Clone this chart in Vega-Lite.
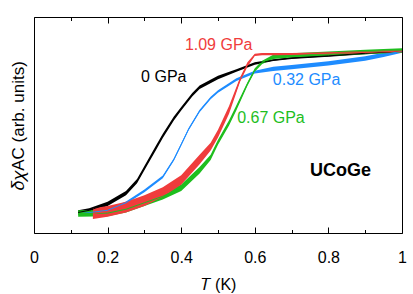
{
  "$schema": "https://vega.github.io/schema/vega-lite/v6.json",
  "width": 368,
  "height": 216,
  "autosize": "none",
  "padding": {"left": 34, "top": 17, "right": 11, "bottom": 61},
  "background": "white",
  "config": {
    "view": {"stroke": "black", "strokeWidth": 1},
    "font": "Liberation Sans",
    "axis": {"domainOpacity": 0, "gridOpacity": 0, "tickColor": "black", "labelColor": "black", "titleColor": "black", "labelFont": "Liberation Sans", "titleFont": "Liberation Sans", "labelFontSize": 16, "titleFontSize": 16, "titleFontWeight": "normal"}
  },
  "datasets": {
    "curves": [
      {"s": "0 GPa", "T": 0.12, "y": 0.095, "lo": 0.085, "hi": 0.105},
      {"s": "0 GPa", "T": 0.15, "y": 0.105, "lo": 0.095, "hi": 0.115},
      {"s": "0 GPa", "T": 0.2, "y": 0.135, "lo": 0.125, "hi": 0.145},
      {"s": "0 GPa", "T": 0.25, "y": 0.185, "lo": 0.175, "hi": 0.195},
      {"s": "0 GPa", "T": 0.28, "y": 0.24, "lo": 0.23, "hi": 0.25},
      {"s": "0 GPa", "T": 0.3, "y": 0.3, "lo": 0.29, "hi": 0.31},
      {"s": "0 GPa", "T": 0.33, "y": 0.39, "lo": 0.38, "hi": 0.4},
      {"s": "0 GPa", "T": 0.35, "y": 0.45, "lo": 0.44, "hi": 0.46},
      {"s": "0 GPa", "T": 0.38, "y": 0.53, "lo": 0.521, "hi": 0.539},
      {"s": "0 GPa", "T": 0.4, "y": 0.575, "lo": 0.567, "hi": 0.583},
      {"s": "0 GPa", "T": 0.43, "y": 0.64, "lo": 0.632, "hi": 0.648},
      {"s": "0 GPa", "T": 0.45, "y": 0.675, "lo": 0.667, "hi": 0.683},
      {"s": "0 GPa", "T": 0.5, "y": 0.72, "lo": 0.712, "hi": 0.728},
      {"s": "0 GPa", "T": 0.55, "y": 0.752, "lo": 0.746, "hi": 0.758},
      {"s": "0 GPa", "T": 0.6, "y": 0.785, "lo": 0.779, "hi": 0.791},
      {"s": "0 GPa", "T": 0.65, "y": 0.8, "lo": 0.796, "hi": 0.804},
      {"s": "0 GPa", "T": 0.7, "y": 0.81, "lo": 0.806, "hi": 0.814},
      {"s": "0 GPa", "T": 0.8, "y": 0.82, "lo": 0.816, "hi": 0.824},
      {"s": "0 GPa", "T": 0.9, "y": 0.832, "lo": 0.828, "hi": 0.836},
      {"s": "0 GPa", "T": 1.0, "y": 0.842, "lo": 0.838, "hi": 0.846},

      {"s": "0.32 GPa", "T": 0.13, "y": 0.09, "lo": 0.084, "hi": 0.096},
      {"s": "0.32 GPa", "T": 0.2, "y": 0.105, "lo": 0.099, "hi": 0.111},
      {"s": "0.32 GPa", "T": 0.25, "y": 0.14, "lo": 0.134, "hi": 0.146},
      {"s": "0.32 GPa", "T": 0.3, "y": 0.195, "lo": 0.189, "hi": 0.201},
      {"s": "0.32 GPa", "T": 0.35, "y": 0.26, "lo": 0.254, "hi": 0.266},
      {"s": "0.32 GPa", "T": 0.38, "y": 0.34, "lo": 0.334, "hi": 0.346},
      {"s": "0.32 GPa", "T": 0.4, "y": 0.41, "lo": 0.404, "hi": 0.416},
      {"s": "0.32 GPa", "T": 0.42, "y": 0.48, "lo": 0.474, "hi": 0.486},
      {"s": "0.32 GPa", "T": 0.45, "y": 0.565, "lo": 0.559, "hi": 0.571},
      {"s": "0.32 GPa", "T": 0.48, "y": 0.625, "lo": 0.619, "hi": 0.631},
      {"s": "0.32 GPa", "T": 0.5, "y": 0.655, "lo": 0.649, "hi": 0.661},
      {"s": "0.32 GPa", "T": 0.55, "y": 0.71, "lo": 0.704, "hi": 0.716},
      {"s": "0.32 GPa", "T": 0.6, "y": 0.745, "lo": 0.739, "hi": 0.751},
      {"s": "0.32 GPa", "T": 0.65, "y": 0.76, "lo": 0.75, "hi": 0.77},
      {"s": "0.32 GPa", "T": 0.7, "y": 0.768, "lo": 0.758, "hi": 0.778},
      {"s": "0.32 GPa", "T": 0.8, "y": 0.785, "lo": 0.775, "hi": 0.795},
      {"s": "0.32 GPa", "T": 0.9, "y": 0.808, "lo": 0.798, "hi": 0.818},
      {"s": "0.32 GPa", "T": 0.95, "y": 0.825, "lo": 0.815, "hi": 0.835},
      {"s": "0.32 GPa", "T": 1.0, "y": 0.842, "lo": 0.834, "hi": 0.85},

      {"s": "0.67 GPa", "T": 0.12, "y": 0.09, "lo": 0.075, "hi": 0.105},
      {"s": "0.67 GPa", "T": 0.2, "y": 0.092, "lo": 0.077, "hi": 0.107},
      {"s": "0.67 GPa", "T": 0.25, "y": 0.11, "lo": 0.095, "hi": 0.125},
      {"s": "0.67 GPa", "T": 0.3, "y": 0.14, "lo": 0.125, "hi": 0.155},
      {"s": "0.67 GPa", "T": 0.35, "y": 0.17, "lo": 0.155, "hi": 0.185},
      {"s": "0.67 GPa", "T": 0.4, "y": 0.21, "lo": 0.195, "hi": 0.225},
      {"s": "0.67 GPa", "T": 0.45, "y": 0.29, "lo": 0.275, "hi": 0.305},
      {"s": "0.67 GPa", "T": 0.48, "y": 0.35, "lo": 0.338, "hi": 0.362},
      {"s": "0.67 GPa", "T": 0.5, "y": 0.42, "lo": 0.408, "hi": 0.432},
      {"s": "0.67 GPa", "T": 0.53, "y": 0.51, "lo": 0.498, "hi": 0.522},
      {"s": "0.67 GPa", "T": 0.55, "y": 0.58, "lo": 0.568, "hi": 0.592},
      {"s": "0.67 GPa", "T": 0.58, "y": 0.69, "lo": 0.682, "hi": 0.698},
      {"s": "0.67 GPa", "T": 0.6, "y": 0.755, "lo": 0.747, "hi": 0.763},
      {"s": "0.67 GPa", "T": 0.62, "y": 0.79, "lo": 0.782, "hi": 0.798},
      {"s": "0.67 GPa", "T": 0.65, "y": 0.815, "lo": 0.805, "hi": 0.825},
      {"s": "0.67 GPa", "T": 0.7, "y": 0.822, "lo": 0.812, "hi": 0.832},
      {"s": "0.67 GPa", "T": 0.8, "y": 0.83, "lo": 0.82, "hi": 0.84},
      {"s": "0.67 GPa", "T": 0.9, "y": 0.838, "lo": 0.828, "hi": 0.848},
      {"s": "0.67 GPa", "T": 1.0, "y": 0.845, "lo": 0.835, "hi": 0.855},

      {"s": "1.09 GPa", "T": 0.16, "y": 0.09, "lo": 0.065, "hi": 0.115},
      {"s": "1.09 GPa", "T": 0.2, "y": 0.1, "lo": 0.075, "hi": 0.125},
      {"s": "1.09 GPa", "T": 0.25, "y": 0.12, "lo": 0.095, "hi": 0.145},
      {"s": "1.09 GPa", "T": 0.3, "y": 0.15, "lo": 0.125, "hi": 0.175},
      {"s": "1.09 GPa", "T": 0.35, "y": 0.19, "lo": 0.168, "hi": 0.212},
      {"s": "1.09 GPa", "T": 0.4, "y": 0.245, "lo": 0.223, "hi": 0.267},
      {"s": "1.09 GPa", "T": 0.45, "y": 0.34, "lo": 0.318, "hi": 0.362},
      {"s": "1.09 GPa", "T": 0.48, "y": 0.4, "lo": 0.382, "hi": 0.418},
      {"s": "1.09 GPa", "T": 0.5, "y": 0.46, "lo": 0.442, "hi": 0.478},
      {"s": "1.09 GPa", "T": 0.53, "y": 0.57, "lo": 0.552, "hi": 0.588},
      {"s": "1.09 GPa", "T": 0.56, "y": 0.71, "lo": 0.7, "hi": 0.72},
      {"s": "1.09 GPa", "T": 0.58, "y": 0.78, "lo": 0.77, "hi": 0.79},
      {"s": "1.09 GPa", "T": 0.6, "y": 0.825, "lo": 0.82, "hi": 0.83},
      {"s": "1.09 GPa", "T": 0.62, "y": 0.828, "lo": 0.823, "hi": 0.833},
      {"s": "1.09 GPa", "T": 0.7, "y": 0.828, "lo": 0.823, "hi": 0.833},
      {"s": "1.09 GPa", "T": 0.8, "y": 0.832, "lo": 0.827, "hi": 0.837},
      {"s": "1.09 GPa", "T": 0.9, "y": 0.836, "lo": 0.831, "hi": 0.841},
      {"s": "1.09 GPa", "T": 1.0, "y": 0.842, "lo": 0.837, "hi": 0.847}
    ],
    "labels": [
      {"s": "0 GPa", "T": 0.291, "y": 0.722, "text": "0 GPa"},
      {"s": "1.09 GPa", "T": 0.41, "y": 0.87, "text": "1.09 GPa"},
      {"s": "0.32 GPa", "T": 0.649, "y": 0.708, "text": "0.32 GPa"},
      {"s": "0.67 GPa", "T": 0.552, "y": 0.532, "text": "0.67 GPa"}
    ],
    "sample": [
      {"T": 0.75, "y": 0.287, "text": "UCoGe"}
    ]
  },
  "layer": [
    {
      "data": {"name": "curves"},
      "mark": {"type": "area", "opacity": 1},
      "encoding": {
        "x": {"field": "T", "type": "quantitative", "scale": {"domain": [0, 1], "nice": false},
              "axis": {"orient": "bottom", "offset": -6, "values": [0, 0.2, 0.4, 0.6, 0.8, 1], "format": "~g", "tickSize": 6, "tickWidth": 1, "labelPadding": 16, "labelFlush": false, "title": "𝑇 (K)", "titlePadding": 11}},
        "y": {"field": "lo", "type": "quantitative", "scale": {"domain": [0, 1], "nice": false},
              "axis": {"tickOpacity": 0, "labelOpacity": 0, "tickSize": 0, "labelFontSize": 1, "labelPadding": 0, "title": "𝛿𝜒AC (arb. units)", "titleFontSize": 17, "titlePadding": 5}},
        "y2": {"field": "hi"},
        "color": {"field": "s", "type": "nominal",
                  "scale": {"domain": ["0 GPa", "0.32 GPa", "0.67 GPa", "1.09 GPa"], "range": ["#000000", "#1e8cff", "#1ebe1e", "#f03c3c"]},
                  "legend": null}
      }
    },
    {
      "data": {"name": "curves"},
      "mark": {"type": "line", "strokeWidth": 1},
      "encoding": {
        "x": {"field": "T", "type": "quantitative",
              "axis": {"orient": "top", "offset": -6, "values": [0, 0.2, 0.4, 0.6, 0.8, 1], "labelOpacity": 0, "labelFontSize": 1, "tickSize": 6, "tickWidth": 1, "title": null}},
        "y": {"field": "y", "type": "quantitative"},
        "color": {"field": "s", "type": "nominal", "legend": null}
      }
    },
    {
      "data": {"name": "labels"},
      "mark": {"type": "text", "align": "left", "baseline": "middle", "fontSize": 16},
      "encoding": {
        "x": {"field": "T", "type": "quantitative",
              "axis": {"orient": "bottom", "offset": -3.5, "values": [0.1, 0.3, 0.5, 0.7, 0.9], "labelOpacity": 0, "labelFontSize": 1, "tickSize": 3.5, "tickWidth": 1, "title": null}},
        "y": {"field": "y", "type": "quantitative"},
        "text": {"field": "text"},
        "color": {"field": "s", "type": "nominal", "legend": null}
      }
    },
    {
      "data": {"name": "sample"},
      "mark": {"type": "text", "align": "left", "baseline": "middle", "fontSize": 18, "fontWeight": "bold", "color": "black"},
      "encoding": {
        "x": {"field": "T", "type": "quantitative",
              "axis": {"orient": "top", "offset": -3.5, "values": [0.1, 0.3, 0.5, 0.7, 0.9], "labelOpacity": 0, "labelFontSize": 1, "tickSize": 3.5, "tickWidth": 1, "title": null}},
        "y": {"field": "y", "type": "quantitative"},
        "text": {"field": "text"}
      }
    }
  ],
  "resolve": {"axis": {"x": "independent"}}
}
